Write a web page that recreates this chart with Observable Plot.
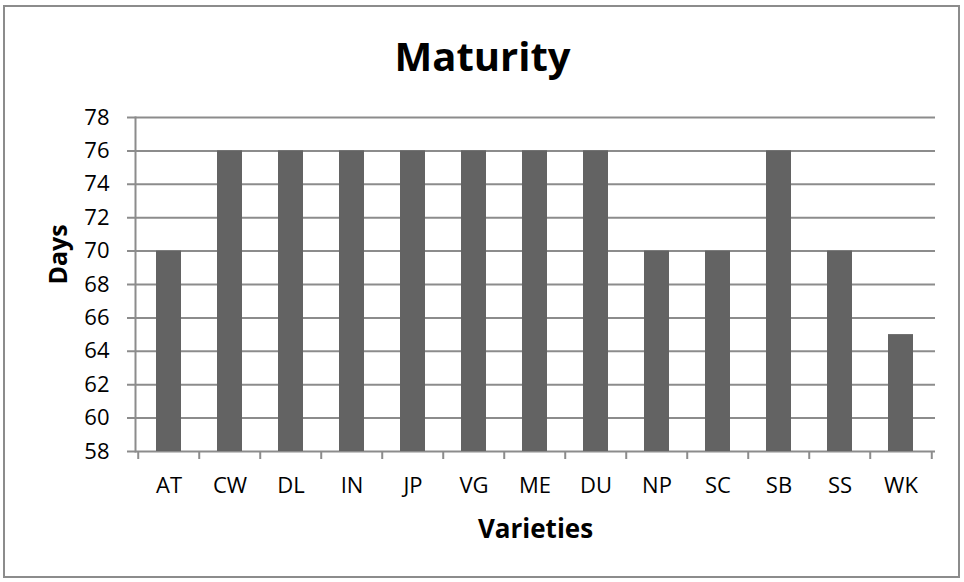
<!DOCTYPE html>
<html>
<head>
<meta charset="utf-8">
<script src="https://cdn.jsdelivr.net/npm/d3@7"></script>
<script src="https://cdn.jsdelivr.net/npm/@observablehq/plot@0.6"></script>
<style>
  html, body { margin: 0; padding: 0; background: #fff; }
  #wrap { position: relative; width: 964px; height: 582px; }
  #border { position: absolute; left: 3px; top: 5px; width: 957px; height: 573px; border: 2px solid #8c8c8c; box-sizing: border-box; pointer-events: none; }
  svg { font-family: "Open Sans", sans-serif; }
</style>
</head>
<body>
<div id="wrap"><div id="border"></div></div>
<script>
const title = "Maturity";
const xLabel = "Varieties";
const yLabel = "Days";
const varieties = ["AT", "CW", "DL", "IN", "JP", "VG", "ME", "DU", "NP", "SC", "SB", "SS", "WK"];
const days = [70, 76, 76, 76, 76, 76, 76, 76, 70, 70, 76, 70, 65];
const yTicks = [58, 60, 62, 64, 66, 68, 70, 72, 74, 76, 78];

const data = varieties.map((v, i) => ({variety: v, days: days[i]}));

const W = 964, H = 582;
const mL = 135, mR = 29, mT = 117, mB = 131;
const step = (W - mL - mR) / varieties.length;
const frameCenter = mL + (W - mL - mR) / 2;
const grid = "#8c8c8c";

const chart = Plot.plot({
  width: W,
  height: H,
  marginLeft: mL,
  marginRight: mR,
  marginTop: mT,
  marginBottom: mB,
  style: {fontFamily: "'Open Sans', sans-serif", background: "transparent", overflow: "visible"},
  x: {domain: varieties, paddingInner: 0.59, paddingOuter: 0.295, label: null},
  y: {domain: [58, 78], label: null},
  marks: [
    Plot.ruleY(yTicks, {y: d => d, stroke: grid, strokeWidth: 2, insetLeft: -8}),
    Plot.barY(data, {x: "variety", y1: 58, y2: "days", fill: "#636363"}),
    Plot.frame({anchor: "left", stroke: grid, strokeWidth: 2}),
    Plot.ruleX(varieties, {x: d => d, y1: 58, y2: 58, dx: -step / 2, insetBottom: -8, stroke: grid, strokeWidth: 2}),
    Plot.ruleX(varieties.slice(-1), {x: d => d, y1: 58, y2: 58, dx: step / 2, insetBottom: -8, stroke: grid, strokeWidth: 2}),
    Plot.axisY({ticks: yTicks, tickSize: 0, tickPadding: 26, fontSize: 22, fill: "#000", label: null}),
    Plot.axisX({tickSize: 0, tickPadding: 26, fontSize: 22, fill: "#000", label: null}),
    Plot.text([title], {frameAnchor: "top", lineAnchor: "bottom", dy: -47, dx: W / 2 - frameCenter, fontSize: 40, fontWeight: "bold", fill: "#000"}),
    Plot.text([xLabel], {frameAnchor: "bottom", lineAnchor: "bottom", dy: 86, fontSize: 26, fontWeight: "bold", fill: "#000"}),
    Plot.text([yLabel], {frameAnchor: "left", lineAnchor: "bottom", rotate: -90, dx: -69, fontSize: 25, fontWeight: "bold", fill: "#000"})
  ]
});
document.getElementById("wrap").appendChild(chart);
chart.style.position = "absolute";
chart.style.left = "0px";
chart.style.top = "0px";
</script>
</body>
</html>
